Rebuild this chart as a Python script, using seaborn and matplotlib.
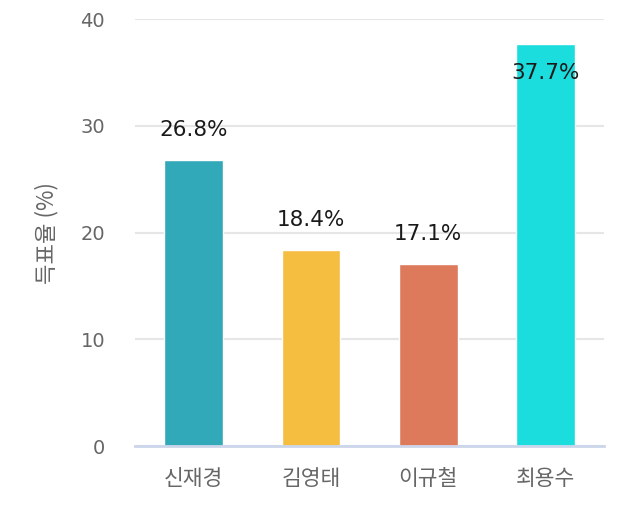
import matplotlib
matplotlib.use("Agg")
import matplotlib.pyplot as plt
import seaborn as sns
import pandas as pd

candidates = ["신재경", "김영태", "이규철", "최용수"]
values = [26.8, 18.4, 17.1, 37.7]
colors = ["#31A9B8", "#F5BE41", "#DE7A5C", "#1BDDDD"]
y_ticks = [0, 10, 20, 30, 40]
y_label = "득표율 (%)"

sns.set_theme(style="white")
plt.rcParams['font.family'] = ['DejaVu Sans', 'Noto Sans CJK KR']

df = pd.DataFrame({"candidate": candidates, "value": values})

fig = plt.figure(figsize=(6.4, 5.2), dpi=100)
ax = fig.add_axes([0.211, 0.142, 0.733, 0.821])

sns.barplot(data=df, x="candidate", y="value", hue="candidate", palette=colors,
            width=0.5, legend=False, ax=ax, saturation=1)

ax.set_ylim(0, 40)
ax.set_yticks(y_ticks)
ax.yaxis.grid(True, color="#e6e6e6", linewidth=1.5)
ax.set_axisbelow(True)
for s in ["top", "right", "left"]:
    ax.spines[s].set_visible(False)
ax.spines["bottom"].set_color("#ccd6eb")
ax.spines["bottom"].set_linewidth(2)
ax.tick_params(axis="both", length=0, colors="#666666")
ax.tick_params(axis="y", labelsize=14, pad=21.5)
ax.tick_params(axis="x", pad=16)
for lab in ax.get_xticklabels():
    lab.set_fontfamily(['Noto Sans CJK KR', 'DejaVu Sans'])
    lab.set_fontsize(15.5)
ax.set_xlabel("")
ax.set_ylabel(y_label, fontsize=16, color="#666666", labelpad=16,
              family=['Noto Sans CJK KR', 'DejaVu Sans'], fontweight="medium")

for i, v in enumerate(values):
    y = min(v + 2.8, 35.0)
    ax.text(i, y, f"{v}%", ha="center", va="center", fontsize=15.5, color="#1a1a1a")

fig.savefig("out.png", dpi=100)
